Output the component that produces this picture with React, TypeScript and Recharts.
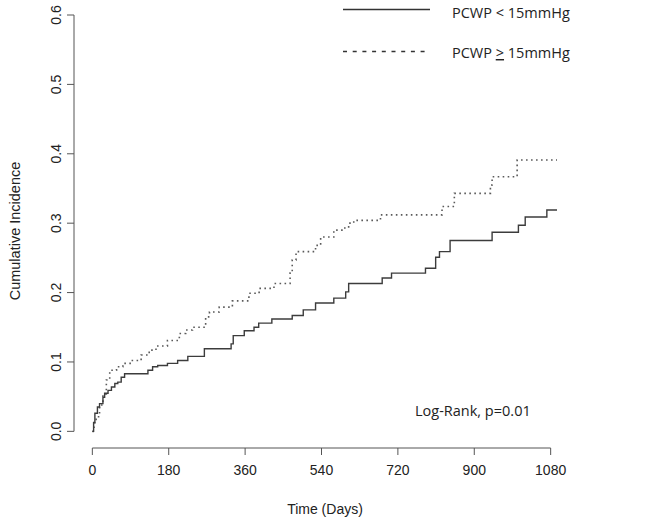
import React from "react";
import { LineChart, Line, XAxis, YAxis, ReferenceLine } from "recharts";

// cumulative incidence step points (day, value)
const lowDays = [0, 3, 6, 12, 17, 25, 29, 37, 45, 53, 60, 68, 76, 131, 142, 154, 177, 201, 225, 264, 327, 332, 358, 381, 392, 423, 471, 497, 526, 569, 597, 604, 683, 705, 785, 809, 818, 843, 942, 1004, 1020, 1071, 1095];
const lowInc = [0, 0.013, 0.026, 0.035, 0.04, 0.049, 0.055, 0.059, 0.064, 0.069, 0.071, 0.078, 0.083, 0.088, 0.093, 0.095, 0.098, 0.102, 0.108, 0.119, 0.126, 0.138, 0.145, 0.15, 0.156, 0.162, 0.167, 0.175, 0.185, 0.192, 0.201, 0.213, 0.221, 0.228, 0.235, 0.251, 0.259, 0.275, 0.287, 0.297, 0.309, 0.319, 0.319];

const highDays = [0, 4, 9, 17, 25, 33, 41, 57, 72, 92, 115, 134, 150, 177, 205, 220, 236, 267, 276, 299, 330, 369, 393, 428, 466, 471, 480, 526, 538, 569, 592, 604, 616, 679, 824, 853, 938, 942, 1001, 1095];
const highInc = [0, 0.012, 0.021, 0.038, 0.054, 0.074, 0.088, 0.093, 0.098, 0.102, 0.11, 0.117, 0.123, 0.131, 0.141, 0.146, 0.15, 0.165, 0.172, 0.179, 0.188, 0.199, 0.206, 0.213, 0.228, 0.247, 0.259, 0.268, 0.28, 0.29, 0.293, 0.3, 0.304, 0.312, 0.324, 0.343, 0.355, 0.367, 0.391, 0.391];

const xTicks = [0, 180, 360, 540, 720, 900, 1080];
const yTicks = [0, 0.1, 0.2, 0.3, 0.4, 0.5, 0.6];

const lowData = lowDays.map((d, i) => ({ day: d, inc: lowInc[i] }));
const highData = highDays.map((d, i) => ({ day: d, inc: highInc[i] }));

const AXIS = "#555";
const TXT = "#222";
const SANS = "'Liberation Sans', Arial, sans-serif";
const LEG = "'Open Sans', sans-serif";

const XTick = (props: any) => {
  const { x, y, payload } = props;
  return (
    <text x={x} y={y + 20} textAnchor="middle" fontSize={14} fontFamily={SANS} fill={TXT}>
      {payload.value}
    </text>
  );
};

const YTick = (props: any) => {
  const { x, y, payload } = props;
  const bx = x - 6;
  return (
    <text
      x={bx}
      y={y}
      textAnchor="middle"
      fontSize={14}
      fontFamily={SANS}
      fill={TXT}
      transform={`rotate(-90, ${bx}, ${y})`}
    >
      {payload.value.toFixed(1)}
    </text>
  );
};

export default function App() {
  return (
    <div style={{ position: "absolute", left: 0, top: 0, width: 650, height: 528, background: "#fff" }}>
      <LineChart width={650} height={528} margin={{ top: 15, right: 81, bottom: 0, left: 0 }}>
        <XAxis
          dataKey="day"
          type="number"
          domain={[-43.2, 1123.2]}
          allowDataOverflow
          ticks={xTicks}
          axisLine={false}
          tickLine={{ stroke: AXIS }}
          tickSize={7}
          tickMargin={0}
          height={80}
          tick={<XTick />}
        />
        <YAxis
          type="number"
          domain={[-0.024, 0.6]}
          allowDataOverflow
          ticks={yTicks}
          axisLine={false}
          tickLine={{ stroke: AXIS }}
          tickSize={7}
          tickMargin={0}
          width={74}
          tick={<YTick />}
        />
        <ReferenceLine segment={[{ x: 0, y: -0.024 }, { x: 1080, y: -0.024 }]} stroke={AXIS} strokeWidth={1} />
        <ReferenceLine segment={[{ x: -43.2, y: 0 }, { x: -43.2, y: 0.6 }]} stroke={AXIS} strokeWidth={1} />
        <Line
          data={highData}
          dataKey="inc"
          type="stepAfter"
          stroke="#5a5a5a"
          strokeWidth={1.6}
          strokeDasharray="1.6 3.4"
          dot={false}
          isAnimationActive={false}
        />
        <Line
          data={lowData}
          dataKey="inc"
          type="stepAfter"
          stroke="#3c3c3c"
          strokeWidth={1.4}
          dot={false}
          isAnimationActive={false}
        />
      </LineChart>
      <svg width={650} height={528} style={{ position: "absolute", left: 0, top: 0, pointerEvents: "none" }}>
        <text x={325} y={514} textAnchor="middle" fontSize={14} fontFamily={SANS} fill={TXT}>
          Time (Days)
        </text>
        <text
          x={20}
          y={231}
          textAnchor="middle"
          fontSize={14.5}
          fontFamily={SANS}
          fill={TXT}
          transform="rotate(-90, 20, 231)"
        >
          Cumulative Incidence
        </text>
        <line x1={343} y1={9.5} x2={430} y2={9.5} stroke="#333" strokeWidth={1.6} />
        <text x={452} y={18} fontSize={14.5} fontFamily={LEG} fill={TXT}>
          {"PCWP < 15mmHg"}
        </text>
        <line x1={343} y1={51.5} x2={430} y2={51.5} stroke="#333" strokeWidth={1.4} strokeDasharray="4 5.7" />
        <text x={452} y={58} fontSize={14.5} fontFamily={LEG} fill={TXT}>
          {"PCWP "}
          <tspan style={{ textDecoration: "underline" }}>{">"}</tspan>
          {" 15mmHg"}
        </text>
        <text x={415} y={416} fontSize={14.5} fontFamily={LEG} fill={TXT}>
          Log-Rank, p=0.01
        </text>
      </svg>
    </div>
  );
}
